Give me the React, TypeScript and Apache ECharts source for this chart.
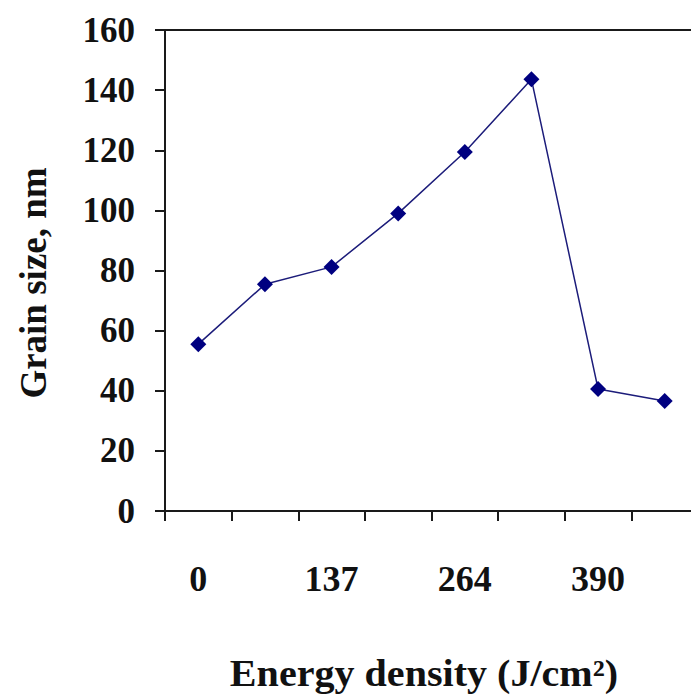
import React, { useEffect, useRef } from "react";
import * as echarts from "echarts";

const categories: string[] = ["0", "", "137", "", "264", "", "390", ""];
const grainSize: number[] = [55.5, 75.4, 81.2, 99, 119.4, 143.6, 40.6, 36.6];
const yTicks = { min: 0, max: 160, interval: 20 };
const xTitle = "Energy density (J/cm²)";
const yTitle = "Grain size, nm";

export default function App() {
  const ref = useRef<HTMLDivElement>(null);
  useEffect(() => {
    document.body.style.margin = "0";
    const chart = echarts.init(ref.current!, null, { renderer: "svg" });
    const font = "'Liberation Serif', 'Times New Roman', serif";
    chart.setOption({
      animation: false,
      backgroundColor: "#ffffff",
      grid: {
        left: 165,
        top: 30,
        width: 533,
        height: 481,
        outerBoundsMode: "none",
        containLabel: false,
        show: true,
        borderColor: "#1a1a1a",
        borderWidth: 2,
        backgroundColor: "transparent",
      },
      xAxis: {
        type: "category",
        data: categories,
        boundaryGap: true,
        axisLine: { show: true, lineStyle: { color: "#1a1a1a", width: 2 } },
        axisTick: { show: true, interval: 0, length: 10, alignWithLabel: false, lineStyle: { color: "#1a1a1a", width: 2 } },
        axisLabel: {
          interval: 0,
          margin: 50,
          color: "#111",
          fontFamily: font,
          fontWeight: "bold",
          fontSize: 36,
        },
        splitLine: { show: false },
      },
      yAxis: {
        type: "value",
        min: yTicks.min,
        max: yTicks.max,
        interval: yTicks.interval,
        axisLine: { show: true, lineStyle: { color: "#1a1a1a", width: 2 } },
        axisTick: { show: true, length: 10, lineStyle: { color: "#1a1a1a", width: 2 } },
        axisLabel: {
          margin: 30,
          color: "#111",
          fontFamily: font,
          fontWeight: "bold",
          fontSize: 35,
        },
        splitLine: { show: false },
      },
      graphic: [
        {
          type: "text",
          x: 424,
          y: 673,
          scaleX: 1.055,
          style: {
            text: xTitle,
            fill: "#111",
            font: `bold 38px ${font}`,
            align: "center",
            verticalAlign: "middle",
          },
        },
        {
          type: "text",
          x: 33,
          y: 283,
          rotation: Math.PI / 2,
          style: {
            text: yTitle,
            fill: "#111",
            font: `bold 37px ${font}`,
            align: "center",
            verticalAlign: "middle",
          },
        },
      ],
      series: [
        {
          type: "line",
          data: grainSize,
          symbol: "diamond",
          symbolSize: 16,
          itemStyle: { color: "#000080" },
          lineStyle: { color: "#1c1c7a", width: 1.5 },
        },
      ],
    });
    return () => chart.dispose();
  }, []);
  return <div ref={ref} style={{ width: 691, height: 696 }} />;
}
